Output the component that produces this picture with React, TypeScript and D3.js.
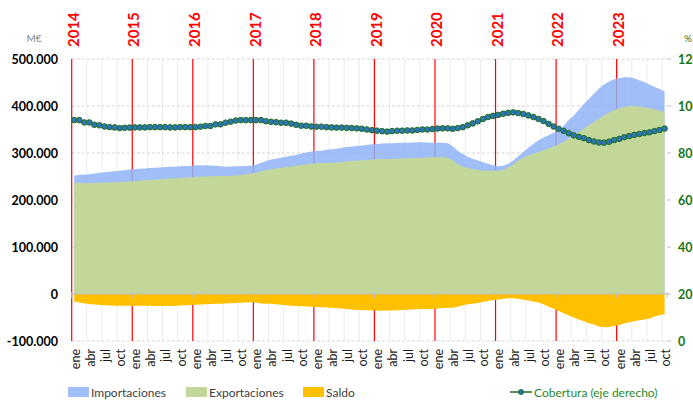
import React from "react";
import * as d3 from "d3";

/* DATA */
const years = [2014, 2015, 2016, 2017, 2018, 2019, 2020, 2021, 2022, 2023];
const monthNames = ["ene", "feb", "mar", "abr", "may", "jun", "jul", "ago", "sep", "oct", "nov", "dic"];
const shownMonths = ["ene", "abr", "jul", "oct"];

// M€, media móvil anual, ene 2014 - oct 2023
const importaciones = [
  252000, 253000, 254000, 255000, 256500, 258000, 259000, 260000, 261000, 262000, 263500, 265000,
  266000, 266500, 267000, 268000, 268500, 269000, 270000, 270500, 271000, 272000, 272500, 273000,
  274000, 274000, 274000, 273500, 273000, 272000, 271000, 271500, 272000, 272000, 272500, 273000,
  275000, 279000, 283000, 286000, 288000, 290000, 292000, 294000, 296000, 299000, 301000, 303000,
  304000, 305000, 307000, 308000, 309000, 311000, 313000, 314000, 315000, 316000, 317000, 318500,
  319000, 320000, 320500, 321000, 321500, 322000, 322000, 322500, 323000, 323000, 322500, 322000,
  322000, 322000, 321000, 315000, 305000, 298000, 292000, 288000, 284000, 280500, 277000, 274000,
  272000, 273000, 277000, 284000, 293000, 302000, 311000, 319000, 327000, 333000, 338000, 343000,
  348000, 358000, 370000, 380000, 392000, 404000, 415000, 426000, 437000, 446000, 452000, 457000,
  459000, 461000, 461000, 459000, 455000, 451000, 446000, 441000, 436000, 431000,
];

const exportaciones = [
  236800, 236000, 235500, 235500, 236000, 236500, 237000, 237500, 238000, 238500, 239000, 239500,
  240000, 241000, 242000, 242500, 243000, 244000, 245000, 245500, 246000, 247000, 247500, 248500,
  249000, 249500, 250000, 250500, 251000, 251000, 251000, 251500, 252000, 253000, 254500, 256500,
  258000, 261000, 264000, 265500, 267000, 268500, 270000, 271500, 273000, 274500, 276000, 277000,
  278000, 278500, 279000, 279500, 280000, 281000, 282000, 283000, 284000, 284500, 285000, 286000,
  286500, 287000, 287000, 287500, 288000, 288500, 289000, 289000, 289500, 290000, 290500, 291000,
  291000, 291500, 290000, 284000, 276000, 271000, 268000, 265500, 264000, 263000, 262500, 262000,
  262000, 264000, 269000, 276000, 284000, 290000, 294500, 298500, 302000, 306000, 310000, 314000,
  318000, 324000, 331000, 338000, 345000, 352000, 359000, 366000, 373000, 380000, 386000, 391000,
  395000, 398000, 400000, 400000, 399000, 397000, 395000, 393000, 390000, 388000,
];

const saldo = [
  -16000, -18000, -20000, -21500, -22500, -23400, -24000, -24500, -24800, -25000, -25000, -25000,
  -25000, -25000, -25000, -25000, -25500, -25500, -25500, -25500, -25000, -24500, -24000, -23500,
  -23000, -22500, -22000, -21500, -21000, -20500, -20000, -19500, -19000, -18500, -18000, -17700,
  -18000, -20000, -20500, -21000, -22000, -23000, -24000, -25000, -25500, -26000, -26500, -27000,
  -27500, -28000, -28500, -29500, -30500, -31000, -32000, -33000, -34000, -34000, -34500, -35000,
  -35000, -35500, -35000, -35000, -34500, -34000, -33600, -33000, -32500, -32000, -32000, -32000,
  -31000, -30000, -29500, -29000, -27000, -24000, -22000, -21000, -19000, -17000, -15000, -13000,
  -12000, -10000, -9000, -9000, -10000, -12000, -14000, -16000, -18000, -22000, -27000, -31000,
  -36000, -41000, -46000, -50000, -54000, -58000, -62000, -65000, -69000, -71000, -70000, -68000,
  -66000, -63000, -60000, -58000, -56000, -54000, -52000, -48000, -45000, -43000,
];

// %
const cobertura = [
  94, 94, 93, 93, 92, 91.8, 91.3, 91, 90.9, 90.6, 90.7, 90.8,
  90.9, 90.9, 90.9, 91, 91, 91, 91, 90.9, 90.9, 91, 91, 91,
  91, 91.2, 91.5, 91.5, 92.2, 92.2, 92.9, 93.3, 93.8, 94, 94, 94,
  94, 94, 93.5, 93.3, 93.1, 92.9, 92.9, 92.5, 92, 91.6, 91.6, 91.3,
  91.2, 91.2, 91, 90.9, 90.8, 90.8, 90.7, 90.6, 90.5, 90.3, 90, 89.7,
  89.5, 89.3, 89.1, 89.3, 89.5, 89.5, 89.6, 89.6, 89.8, 90, 90, 90.2,
  90.4, 90.5, 90.5, 90.3, 90.6, 91, 91.8, 92.6, 93.5, 94.5, 95.3, 95.8,
  96.2, 96.7, 97.1, 97.3, 97, 96.6, 96, 95.3, 94.5, 93.6, 92.4, 91.3,
  90.3, 89.4, 88.4, 87.5, 86.9, 86.3, 85.5, 84.9, 84.5, 84.4, 84.8, 85.5,
  86, 86.7, 87.2, 87.7, 88.1, 88.5, 88.8, 89.3, 89.8, 90.4,
];

const leftTicks = [-100000, 0, 100000, 200000, 300000, 400000, 500000];
const rightTicks = [0, 20, 40, 60, 80, 100, 120];

const categories = years
  .flatMap((y) => monthNames.map((m) => ({ year: y, month: m })))
  .slice(0, importaciones.length);

/* STYLE */
const FONT = "Lato, 'Open Sans', sans-serif";
const BLUE = "#8fb4f7";
const GREEN = "#c4d79b";
const ORANGE = "#ffc000";
const RED = "#ff0000";
const LINE_GREEN = "#1f6e1f";
const AXIS_GREEN = "#17751a";

const fmt = d3
  .formatLocale({ decimal: ",", thousands: ".", grouping: [3], currency: ["", "€"], minus: "-" })
  .format(",d");

export default function App() {
  const W = 693;
  const H = 401;
  const top = 59;
  const bottom = 341;

  const x = d3
    .scaleBand<number>()
    .domain(d3.range(categories.length))
    .range([71.7, 667.1]);
  const cx = (i: number) => (x(i) as number) + x.bandwidth() / 2;
  const left = x.range()[0];
  const right = x.range()[1];

  const yL = d3.scaleLinear().domain([-100000, 500000]).range([bottom, top]);
  const yR = d3.scaleLinear().domain([0, 120]).range([bottom, top]);

  const area = d3
    .area<number>()
    .x((d, i) => cx(i))
    .y0(yL(0))
    .y1((d) => yL(d));

  const line = d3
    .line<number>()
    .x((d, i) => cx(i))
    .y((d) => yR(d));

  // index of category boundaries
  const quarterStarts = categories
    .map((c, i) => i)
    .filter((i) => i % 3 === 0 && i % 12 !== 0);
  const yearStarts = categories.map((c, i) => i).filter((i) => i % 12 === 0);

  return (
    <svg
      width={W}
      height={H}
      style={{ position: "absolute", left: 0, top: 0, background: "#fff" }}
      fontFamily={FONT}
    >
      {/* vertical grid */}
      {quarterStarts.map((i) => (
        <line key={"vg" + i} x1={x(i)} x2={x(i)} y1={top} y2={bottom} stroke="#ececec" strokeWidth={1} />
      ))}
      {/* horizontal grid */}
      {leftTicks.map((t) => (
        <line
          key={"hg" + t}
          x1={left}
          x2={right}
          y1={yL(t)}
          y2={yL(t)}
          stroke="#d4d4d4"
          strokeDasharray="3,2"
          strokeWidth={1}
        />
      ))}

      {/* year lines */}
      {yearStarts.map((i) => (
        <line key={"yl" + i} x1={x(i)} x2={x(i)} y1={top} y2={bottom} stroke={RED} strokeWidth={1.2} />
      ))}

      {/* areas */}
      <path d={area(importaciones) as string} fill={BLUE} fillOpacity={0.85} />
      <path d={area(exportaciones) as string} fill={GREEN} />
      <path d={area(saldo) as string} fill={ORANGE} />

      {/* zero axis */}
      <line x1={left} x2={right} y1={yL(0)} y2={yL(0)} stroke="#bfbfbf" strokeWidth={1} />
      {yearStarts.concat([categories.length]).map((i) => {
        const xx = i < categories.length ? (x(i) as number) : right;
        return <line key={"zt" + i} x1={xx} x2={xx} y1={yL(0) - 2} y2={yL(0) + 4} stroke="#bfbfbf" />;
      })}

      {/* right axis ticks */}
      {rightTicks.map((t) => (
        <line key={"rt" + t} x1={right} x2={right + 4} y1={yR(t)} y2={yR(t)} stroke="#bfbfbf" />
      ))}

      {/* cobertura */}
      <path d={line(cobertura) as string} fill="none" stroke={LINE_GREEN} strokeWidth={1.5} />
      {cobertura.map((d, i) => (
        <circle key={"c" + i} cx={cx(i)} cy={yR(d)} r={2.8} fill="#2e75b6" stroke={LINE_GREEN} strokeWidth={1} />
      ))}

      {/* left axis labels */}
      <text x={34} y={38} fontSize={10} fill="#7f7f7f" textAnchor="middle" dominantBaseline="central">
        M€
      </text>
      {leftTicks.map((t) => (
        <text
          key={"lt" + t}
          x={58}
          y={yL(t)}
          textAnchor="end"
          dominantBaseline="central"
          fontSize={12.5}
          fontWeight="bold"
          fill="#000"
        >
          {fmt(t)}
        </text>
      ))}

      {/* right axis labels */}
      <text x={684} y={38} fontSize={10} fill={AXIS_GREEN} dominantBaseline="central">
        %
      </text>
      {rightTicks.map((t) => (
        <text
          key={"rl" + t}
          x={678}
          y={yR(t)}
          dominantBaseline="central"
          fontSize={12.5}
          fontWeight="bold"
          fill={AXIS_GREEN}
        >
          {t}
        </text>
      ))}

      {/* year labels */}
      {yearStarts.map((i) => (
        <text
          key={"yt" + i}
          transform={`translate(${(x(i) as number) + 2},47) rotate(-90)`}
          textAnchor="start"
          dy="0.35em"
          fontSize={15}
          fontWeight="bold"
          fill={RED}
        >
          {categories[i].year}
        </text>
      ))}

      {/* month labels */}
      {categories.map((c, i) =>
        shownMonths.includes(c.month) ? (
          <text
            key={"m" + i}
            transform={`translate(${cx(i) + 1},349) rotate(-90)`}
            textAnchor="end"
            dy="0.35em"
            fontSize={12.5}
            fill="#1a1a1a"
          >
            {c.month}
          </text>
        ) : null
      )}

      {/* legend */}
      <g fontSize={12} fill="#404040">
        <rect x={68} y={387} width={21} height={10} fill={BLUE} fillOpacity={0.85} />
        <text x={91} y={392} dominantBaseline="central">Importaciones</text>
        <rect x={186} y={387} width={21} height={10} fill={GREEN} />
        <text x={209} y={392} dominantBaseline="central">Exportaciones</text>
        <rect x={303} y={387} width={21} height={10} fill={ORANGE} />
        <text x={326} y={392} dominantBaseline="central">Saldo</text>
        <line x1={510} x2={532} y1={392} y2={392} stroke={LINE_GREEN} strokeWidth={1.5} />
        <circle cx={521} cy={392} r={2.5} fill="#2e75b6" stroke={LINE_GREEN} />
        <text x={534} y={392} dominantBaseline="central" fill="#2a8a2a">
          Cobertura (eje derecho)
        </text>
      </g>
    </svg>
  );
}
